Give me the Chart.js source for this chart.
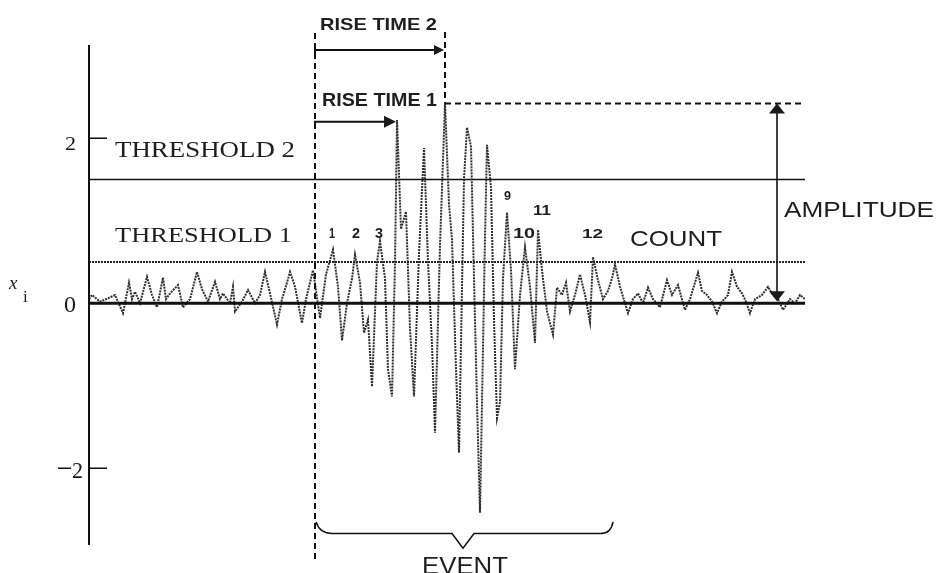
<!DOCTYPE html>
<html>
<head>
<meta charset="utf-8">
<script src="https://cdn.jsdelivr.net/npm/chart.js@4.4.1/dist/chart.umd.min.js"></script>
<style>
  html, body { margin: 0; padding: 0; background: #fff; overflow: hidden; }
  #wrap { width: 938px; height: 573px; position: relative; }
</style>
</head>
<body>
<div id="wrap"><canvas id="aeChart"></canvas></div>
<script>
// time in samples from the start of the trace, signal x_i at each vertex
let sampleT = [
  0, 3, 11, 19, 26, 34, 40, 43, 46, 51, 58, 63, 68, 74, 77, 81, 89, 94, 101, 108,
  113, 119, 126, 131, 134, 141, 144, 146, 153, 159, 166, 171, 176, 181, 188, 193, 198, 201, 206, 213,
  217, 224, 231, 237, 244, 249, 253, 258, 263, 266, 271, 275, 279, 283, 288, 291, 296, 299, 303, 306,
  308, 312, 317, 321, 325, 330, 335, 339, 343, 346, 351, 356, 360, 363, 367, 370, 375, 378, 382, 385,
  388, 391, 396, 398, 402, 405, 408, 411, 414, 418, 422, 426, 431, 436, 441, 446, 449, 453, 458, 464,
  468, 473, 477, 481, 486, 491, 496, 501, 504, 509, 514, 519, 523, 526, 531, 539, 544, 549, 554, 559,
  564, 571, 578, 583, 589, 596, 601, 609, 613, 618, 623, 628, 633, 639, 643, 648, 653, 657, 661, 666,
  673, 679, 684, 689, 694, 701, 706, 711, 716
];
let signalV = [
  0.05, 0.1, 0.02, 0.06, 0.1, -0.12, 0.25, 0.05, 0.14, 0.0, 0.32, 0.1, -0.05, 0.31, 0.05, 0.12, 0.22, -0.05, 0.05, 0.38,
  0.17, 0.02, 0.26, 0.05, 0.12, 0.0, 0.2, -0.1, 0.02, 0.16, 0.0, 0.1, 0.38, 0.12, -0.26, 0.05, 0.25, 0.38, 0.2, -0.24,
  0.05, 0.4, -0.18, 0.35, 0.65, 0.2, -0.45, 0.0, 0.3, 0.59, 0.25, -0.36, -0.2, -1.01, 0.5, 0.75, 0.3, -0.8, -1.13, 0.5,
  2.22, 0.9, 1.11, -0.3, -1.13, 0.6, 1.88, 0.5, -0.5, -1.57, 0.7, 2.42, 1.2, 0.77, -0.8, -1.81, 1.5, 2.13, 1.9, 0.3,
  -1.2, -2.54, 0.8, 1.92, 1.4, -0.2, -1.39, -1.2, 0.3, 1.1, 0.4, -0.8, 0.1, 0.68, 0.2, -0.48, 0.89, 0.4, -0.1, -0.38,
  0.19, 0.1, 0.25, -0.1, 0.1, 0.35, 0.1, -0.23, 0.56, 0.28, 0.05, 0.15, 0.3, 0.47, 0.2, -0.12, 0.05, 0.12, 0.0, 0.19,
  0.05, -0.05, 0.28, 0.1, 0.22, -0.08, 0.05, 0.37, 0.15, 0.1, 0.02, -0.12, 0.02, 0.1, 0.38, 0.2, 0.12, 0.02, -0.12, 0.05,
  0.1, 0.2, 0.1, 0.05, -0.08, 0.05, 0.0, 0.1, 0.05
];

let tMin = 0;
let tMax = 716;
let yMin = -2.93;
let yMax = 3.13;
let yTicks = [2, 0, -2];
let threshold1 = 0.5;
let threshold2 = 1.5;
let eventStart = 226;   // first threshold crossing
let firstPeakT = 308;   // peak reached in rise time 1
let maxPeakT = 356;     // peak reached in rise time 2
let eventEnd = 524;
let amplitude = 2.42;
let amplitudeT = 688;

function linePts(level) {
  return [{ x: tMin, y: level }, { x: tMax, y: level }];
}

let signalPts = [];
for (let i = 0; i < sampleT.length; i++) {
  signalPts.push({ x: sampleT[i], y: signalV[i] });
}

// draw text so it fills a given box (the scan uses wide bitmap fonts)
function fitText(ctx, txt, x0, x1, yBottom, cap, family, weight, capRatio) {
  let size = cap / capRatio;
  ctx.font = weight + " " + size + "px " + family;
  let w = ctx.measureText(txt).width;
  ctx.save();
  ctx.translate(x0, yBottom);
  ctx.scale((x1 - x0) / w, 1);
  ctx.textBaseline = "alphabetic";
  ctx.textAlign = "left";
  ctx.fillText(txt, 0, 0);
  ctx.restore();
}

function arrowHead(ctx, x, y, dx, dy, len, half) {
  // tip at (x,y), pointing along (dx,dy)
  let px = -dy, py = dx;
  ctx.beginPath();
  ctx.moveTo(x, y);
  ctx.lineTo(x - dx * len + px * half, y - dy * len + py * half);
  ctx.lineTo(x - dx * len - px * half, y - dy * len - py * half);
  ctx.closePath();
  ctx.fill();
}

const decor = {
  id: "decor",
  afterDraw(chart) {
    const ctx = chart.ctx;
    const xs = chart.scales.x, ys = chart.scales.y;
    const X = v => xs.getPixelForValue(v);
    const Y = v => ys.getPixelForValue(v);
    const area = chart.chartArea;
    ctx.save();
    ctx.strokeStyle = "#111";
    ctx.fillStyle = "#1a1a1a";

    // y axis
    ctx.lineWidth = 2;
    ctx.beginPath();
    ctx.moveTo(area.left, area.top);
    ctx.lineTo(area.left, area.bottom);
    ctx.stroke();

    // ticks and labels
    ctx.lineWidth = 1.5;
    yTicks.forEach(t => {
      if (t === 0) return;
      let py = Y(t);
      ctx.beginPath();
      ctx.moveTo(area.left, py);
      ctx.lineTo(area.left + 18, py);
      if (t < 0) {
        ctx.moveTo(area.left - 31, py);
        ctx.lineTo(area.left - 18, py);
      }
      ctx.stroke();
    });
    const serif = "'Liberation Serif', 'DejaVu Serif', serif";
    const sans = "'Liberation Sans', Arial, sans-serif";
    fitText(ctx, "2", 65, 76, Y(2) + 12, 13, serif, "normal", 0.68);
    fitText(ctx, "0", 64, 76, Y(0) + 9, 15, serif, "normal", 0.68);
    fitText(ctx, "2", 72, 83, Y(-2) + 10, 15, serif, "normal", 0.68);

    // x_i label
    ctx.font = "italic 19px " + serif;
    ctx.textBaseline = "alphabetic";
    ctx.fillText("x", 9, 289);
    ctx.font = "17px " + serif;
    ctx.fillText("i", 23, 302);

    // dashed event lines
    ctx.lineWidth = 2;
    ctx.setLineDash([6, 4]);
    ctx.beginPath();
    ctx.moveTo(X(eventStart), 33);
    ctx.lineTo(X(eventStart), 562);
    ctx.moveTo(X(maxPeakT), 32);
    ctx.lineTo(X(maxPeakT), Y(amplitude));
    ctx.stroke();
    ctx.beginPath();
    ctx.moveTo(X(maxPeakT), Y(amplitude));
    ctx.lineTo(X(tMax) - 4, Y(amplitude));
    ctx.stroke();
    ctx.setLineDash([]);

    // rise time arrows
    let r2y = Y(3.07), r1y = Y(2.2);
    ctx.lineWidth = 2;
    ctx.beginPath();
    ctx.moveTo(X(eventStart), r2y + 4);
    ctx.lineTo(X(eventStart), r2y);
    ctx.lineTo(X(maxPeakT) - 6, r2y);
    ctx.stroke();
    arrowHead(ctx, X(maxPeakT) - 1, r2y, 1, 0, 10, 5);
    ctx.beginPath();
    ctx.moveTo(X(eventStart), r1y + 4);
    ctx.lineTo(X(eventStart), r1y);
    ctx.lineTo(X(firstPeakT) - 8, r1y);
    ctx.stroke();
    arrowHead(ctx, X(firstPeakT) - 1, r1y, 1, 0, 12, 6);

    // amplitude double arrow
    let ax = X(amplitudeT);
    ctx.lineWidth = 1.6;
    ctx.beginPath();
    ctx.moveTo(ax, Y(amplitude) + 6);
    ctx.lineTo(ax, Y(0) - 6);
    ctx.stroke();
    arrowHead(ctx, ax, Y(amplitude), 0, -1, 10, 8);
    arrowHead(ctx, ax, Y(0) - 2, 0, 1, 10, 8);

    // event brace
    let bx0 = X(eventStart) + 1, bx1 = X(eventEnd);
    let tip = X(374);
    let by = Y(-2.79), bTop = Y(-2.65), bTip = Y(-2.97);
    ctx.lineWidth = 1.5;
    ctx.beginPath();
    ctx.moveTo(bx0, bTop);
    ctx.quadraticCurveTo(bx0 + 4, by, bx0 + 16, by);
    ctx.lineTo(tip - 11, by);
    ctx.lineTo(tip, bTip);
    ctx.lineTo(tip + 11, by);
    ctx.lineTo(bx1 - 12, by);
    ctx.quadraticCurveTo(bx1 - 2, by, bx1, bTop);
    ctx.stroke();

    // texts
    ctx.fillStyle = "#1e1e1e";
    fitText(ctx, "THRESHOLD 2", 115, 295, 157, 15, serif, "normal", 0.66);
    fitText(ctx, "THRESHOLD 1", 115, 292, 242, 14, serif, "normal", 0.66);
    fitText(ctx, "RISE TIME 2", 320, 437, 30, 12, sans, "bold", 0.72);
    fitText(ctx, "RISE TIME 1", 322, 437, 106, 13, sans, "bold", 0.72);
    fitText(ctx, "1", 329, 335, 238, 10, sans, "bold", 0.72);
    fitText(ctx, "2", 352, 360, 238, 10, sans, "bold", 0.72);
    fitText(ctx, "3", 375, 383, 238, 10, sans, "bold", 0.72);
    fitText(ctx, "9", 504, 511, 200, 9, sans, "bold", 0.72);
    fitText(ctx, "10", 513, 535, 238, 10, sans, "bold", 0.72);
    fitText(ctx, "11", 533, 551, 215, 11, sans, "bold", 0.72);
    fitText(ctx, "12", 582, 603, 238, 9, sans, "bold", 0.72);
    fitText(ctx, "COUNT", 630, 722, 246, 16, sans, "normal", 0.72);
    fitText(ctx, "AMPLITUDE", 784, 934, 217, 16, sans, "normal", 0.72);
    fitText(ctx, "EVENT", 422, 508, 574, 17, sans, "normal", 0.72);
    ctx.restore();
  }
};

new Chart(document.getElementById("aeChart"), {
  type: "line",
  data: {
    datasets: [
      {
        label: "zero",
        data: linePts(0),
        borderColor: "#111",
        borderWidth: 3,
        pointRadius: 0,
        order: 0
      },
      {
        label: "signal",
        data: signalPts,
        borderColor: "#2e2e2e",
        borderWidth: 2,
        borderDash: [2, 1],
        pointRadius: 0,
        tension: 0,
        order: 1
      },
      {
        label: "threshold 2",
        data: linePts(threshold2),
        borderColor: "#111",
        borderWidth: 1.5,
        pointRadius: 0,
        order: 2
      },
      {
        label: "threshold 1",
        data: linePts(threshold1),
        borderColor: "#222",
        borderWidth: 2,
        borderDash: [2, 1],
        pointRadius: 0,
        order: 2
      }
    ]
  },
  options: {
    responsive: true,
    maintainAspectRatio: false,
    animation: false,
    layout: { padding: { left: 89, right: 133, top: 45, bottom: 28 } },
    scales: {
      x: { type: "linear", min: tMin, max: tMax, display: false },
      y: { type: "linear", min: yMin, max: yMax, display: false }
    },
    plugins: {
      legend: { display: false },
      tooltip: { enabled: false }
    }
  },
  plugins: [decor]
});
</script>
</body>
</html>
